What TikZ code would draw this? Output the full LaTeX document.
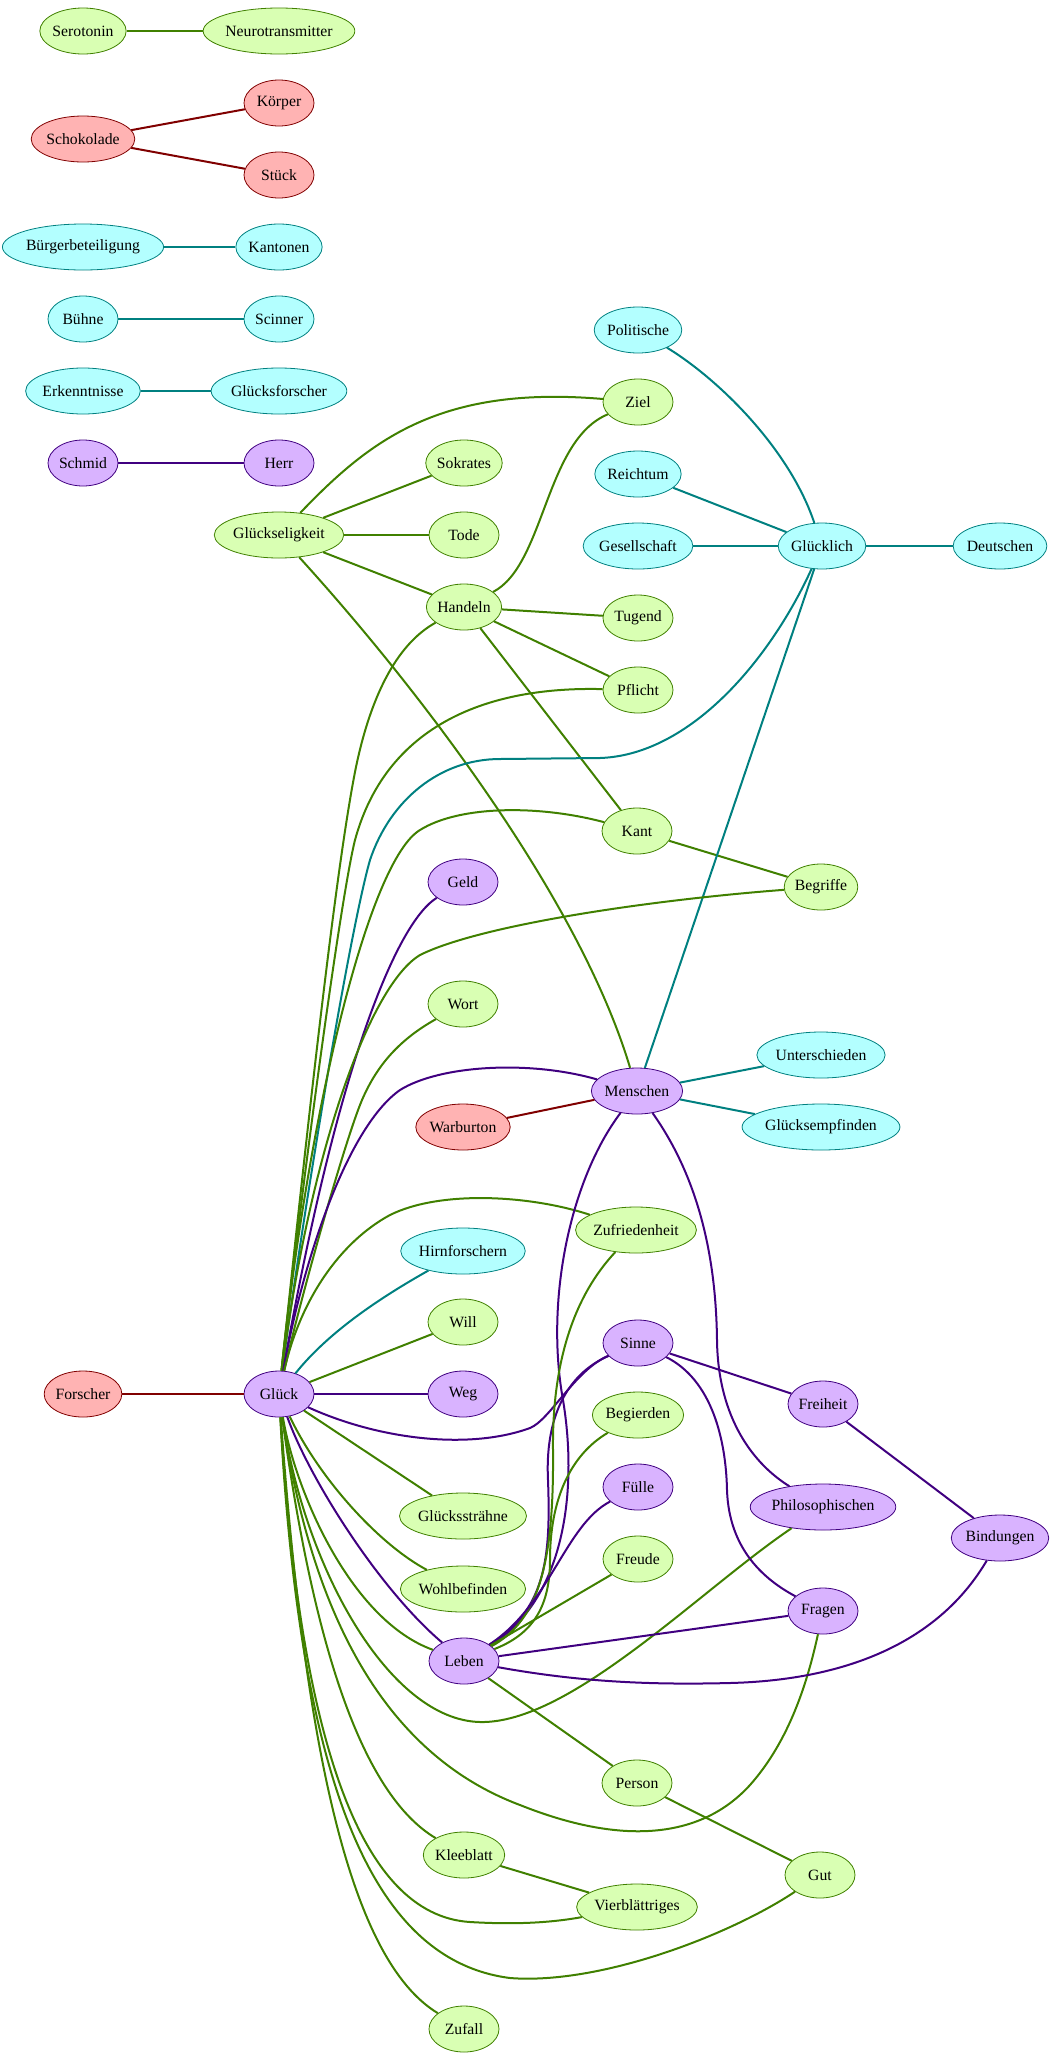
\documentclass[tikz,border=0pt]{standalone}
\usepackage{fontspec}
\setmainfont{Liberation Serif}
\usepackage{xcolor}
\usetikzlibrary{shapes.geometric}

\definecolor{gline}{HTML}{408000}
\definecolor{gfill}{HTML}{D9FFB3}
\definecolor{rline}{HTML}{800000}
\definecolor{rfill}{HTML}{FFB3B3}
\definecolor{cline}{HTML}{008080}
\definecolor{cfill}{HTML}{B3FFFF}
\definecolor{pline}{HTML}{400080}
\definecolor{pfill}{HTML}{D9B3FF}

\begin{document}
\begin{tikzpicture}[x=1pt,y=-1pt,
    every node/.style={ellipse,line width=0.8pt,minimum width=70pt,minimum height=46pt,
      inner xsep=0pt,inner ysep=0pt,font=\fontsize{15.7}{18}\selectfont},
    gnode/.style={draw=gline,fill=gfill},
    rnode/.style={draw=rline,fill=rfill},
    cnode/.style={draw=cline,fill=cfill},
    pnode/.style={draw=pline,fill=pfill},
    gedge/.style={draw=gline,line width=2pt},
    redge/.style={draw=rline,line width=2pt},
    cedge/.style={draw=cline,line width=2pt},
    pedge/.style={draw=pline,line width=2pt}]
\useasboundingbox (0,0) rectangle (1053,2059);

\node[gnode] (serotonin) at (83,31) {Serotonin};
\node[gnode] (neuro) at (279,31) {Neurotransmitter};
\node[rnode] (schokolade) at (83,139) {Schokolade};
\node[rnode] (koerper) at (279,103) {Körper};
\node[rnode] (stueck) at (279,175) {Stück};
\node[cnode] (buerger) at (83,247) {Bürgerbeteiligung};
\node[cnode] (kantonen) at (279,247) {Kantonen};
\node[cnode] (buehne) at (83,319) {Bühne};
\node[cnode] (scinner) at (279,319) {Scinner};
\node[cnode] (erkenntnisse) at (83,391) {Erkenntnisse};
\node[cnode] (gforscher) at (279,391) {Glücksforscher};
\node[pnode] (schmid) at (83,463) {Schmid};
\node[pnode] (herr) at (279,463) {Herr};

\node[cnode] (politische) at (638,330) {Politische};
\node[gnode] (ziel) at (638,402) {Ziel};
\node[gnode] (sokrates) at (464,463) {Sokrates};
\node[cnode] (reichtum) at (638,474) {Reichtum};
\node[gnode] (gseligkeit) at (279,535) {Glückseligkeit};
\node[gnode] (tode) at (464,535) {Tode};
\node[cnode] (gesellschaft) at (638,546) {Gesellschaft};
\node[cnode] (gluecklich) at (822,546) {Glücklich};
\node[cnode] (deutschen) at (1000,546) {Deutschen};
\node[gnode] (handeln) at (464,607) {Handeln};
\node[gnode] (tugend) at (638,618) {Tugend};
\node[gnode] (pflicht) at (638,690) {Pflicht};
\node[gnode] (kant) at (637,831) {Kant};
\node[pnode] (geld) at (463,882) {Geld};
\node[gnode] (begriffe) at (821,887) {Begriffe};
\node[gnode] (wort) at (463,1004) {Wort};
\node[cnode] (unterschieden) at (821,1055) {Unterschieden};
\node[pnode] (menschen) at (637,1091) {Menschen};
\node[rnode] (warburton) at (463,1127) {Warburton};
\node[cnode] (gempfinden) at (821,1127) {Glücksempfinden};
\node[gnode] (zufriedenheit) at (636,1230) {Zufriedenheit};
\node[cnode] (hirnforschern) at (463,1251) {Hirnforschern};
\node[gnode] (will) at (463,1322) {Will};
\node[pnode] (sinne) at (638,1343) {Sinne};
\node[rnode] (forscher) at (83,1394) {Forscher};
\node[pnode] (glueck) at (279,1394) {Glück};
\node[pnode] (weg) at (463,1394) {Weg};
\node[pnode] (freiheit) at (823,1404) {Freiheit};
\node[gnode] (begierden) at (638,1415) {Begierden};
\node[pnode] (fuelle) at (638,1487) {Fülle};
\node[pnode] (philosophischen) at (823,1507) {Philosophischen};
\node[gnode] (gstraehne) at (463,1516) {Glückssträhne};
\node[pnode] (bindungen) at (1000,1538) {Bindungen};
\node[gnode] (freude) at (638,1559) {Freude};
\node[gnode] (wohlbefinden) at (463,1589) {Wohlbefinden};
\node[pnode] (fragen) at (823,1611) {Fragen};
\node[pnode] (leben) at (464,1661) {Leben};
\node[gnode] (person) at (637,1783) {Person};
\node[gnode] (kleeblatt) at (464,1855) {Kleeblatt};
\node[gnode] (gut) at (820,1875) {Gut};
\node[gnode] (vierblaettriges) at (637,1907) {Vierblättriges};
\node[gnode] (zufall) at (464,2029) {Zufall};

\draw[gedge] (serotonin) -- (neuro);
\draw[redge] (schokolade) -- (koerper);
\draw[redge] (schokolade) -- (stueck);
\draw[cedge] (buerger) -- (kantonen);
\draw[cedge] (buehne) -- (scinner);
\draw[cedge] (erkenntnisse) -- (gforscher);
\draw[pedge] (schmid) -- (herr);

\draw[gedge] (gseligkeit) .. controls (370,440) and (440,385) .. (ziel);
\draw[gedge] (gseligkeit) -- (sokrates);
\draw[gedge] (gseligkeit) -- (tode);
\draw[gedge] (gseligkeit) -- (handeln);
\draw[gedge] (gseligkeit) .. controls (420,690) and (580,900) .. (menschen);
\draw[gedge] (handeln) .. controls (545,565) and (545,440) .. (ziel);
\draw[gedge] (handeln) -- (tugend);
\draw[gedge] (handeln) -- (pflicht);
\draw[gedge] (handeln) -- (kant);
\draw[gedge] (kant) -- (begriffe);
\draw[cedge] (politische) .. controls (720,380) and (790,450) .. (gluecklich);
\draw[cedge] (reichtum) -- (gluecklich);
\draw[cedge] (gesellschaft) -- (gluecklich);
\draw[cedge] (gluecklich) -- (deutschen);
\draw[cedge] (gluecklich) -- (menschen);
\draw[redge] (warburton) -- (menschen);
\draw[cedge] (menschen) -- (unterschieden);
\draw[cedge] (menschen) -- (gempfinden);

\draw[gedge] (handeln) .. controls (395,645) and (370,700) .. (356,767) .. controls (335,870) and (305,1150) .. (glueck);
\draw[gedge] (pflicht) .. controls (480,686) and (385,730) .. (355,840) .. controls (340,900) and (300,1200) .. (glueck);
\draw[cedge] (gluecklich) .. controls (770,660) and (690,755) .. (600,758) -- (500,759) .. controls (440,759) and (390,800) .. (370,860) .. controls (350,930) and (305,1200) .. (glueck);
\draw[gedge] (kant) .. controls (540,805) and (460,805) .. (420,830) .. controls (370,860) and (310,1100) .. (glueck);
\draw[pedge] (geld) .. controls (400,920) and (340,1050) .. (glueck);
\draw[gedge] (begriffe) .. controls (650,900) and (480,925) .. (420,955) .. controls (370,985) and (310,1150) .. (glueck);
\draw[gedge] (wort) .. controls (395,1042) and (375,1070) .. (362,1100) .. controls (345,1140) and (300,1300) .. (glueck);
\draw[pedge] (menschen) .. controls (530,1060) and (440,1065) .. (400,1090) .. controls (350,1125) and (305,1250) .. (glueck);
\draw[gedge] (zufriedenheit) .. controls (530,1195) and (440,1190) .. (390,1215) .. controls (340,1242) and (300,1300) .. (glueck);
\draw[cedge] (hirnforschern) .. controls (385,1295) and (330,1330) .. (glueck);
\draw[gedge] (will) -- (glueck);
\draw[pedge] (glueck) -- (weg);
\draw[redge] (forscher) -- (glueck);
\draw[pedge] (glueck) .. controls (380,1440) and (470,1450) .. (530,1428) .. controls (550,1420) and (575,1370) .. (sinne);
\draw[gedge] (glueck) -- (gstraehne);
\draw[gedge] (glueck) .. controls (320,1480) and (380,1545) .. (wohlbefinden);
\draw[pedge] (glueck) .. controls (310,1480) and (380,1590) .. (leben);
\draw[gedge] (glueck) .. controls (295,1490) and (350,1620) .. (leben);
\draw[gedge] (glueck) .. controls (305,1570) and (390,1720) .. (480,1722) .. controls (570,1724) and (700,1590) .. (philosophischen);
\draw[gedge] (glueck) .. controls (315,1640) and (400,1760) .. (520,1805) .. controls (620,1845) and (700,1840) .. (750,1785) .. controls (790,1740) and (808,1680) .. (fragen);
\draw[gedge] (glueck) .. controls (310,1620) and (355,1790) .. (kleeblatt);
\draw[gedge] (glueck) .. controls (300,1740) and (360,1915) .. (470,1922) .. controls (520,1925) and (555,1922) .. (vierblaettriges);
\draw[gedge] (glueck) .. controls (300,1780) and (370,1960) .. (510,1978) .. controls (600,1985) and (730,1935) .. (gut);
\draw[gedge] (glueck) .. controls (305,1750) and (350,1960) .. (zufall);

\draw[pedge] (menschen) .. controls (570,1180) and (545,1300) .. (563,1400) .. controls (578,1490) and (565,1600) .. (leben);
\draw[pedge] (sinne) .. controls (565,1375) and (545,1420) .. (548,1480) .. controls (551,1560) and (545,1610) .. (leben);
\draw[gedge] (zufriedenheit) .. controls (575,1295) and (552,1360) .. (553,1450) .. controls (554,1560) and (540,1620) .. (leben);
\draw[gedge] (begierden) .. controls (570,1455) and (550,1500) .. (550,1560) .. controls (550,1610) and (530,1635) .. (leben);
\draw[pedge] (fuelle) .. controls (565,1525) and (550,1605) .. (leben);
\draw[gedge] (freude) -- (leben);
\draw[pedge] (leben) -- (fragen);
\draw[pedge] (leben) .. controls (580,1682) and (650,1685) .. (730,1683) .. controls (850,1680) and (940,1640) .. (bindungen);
\draw[gedge] (leben) -- (person);
\draw[pedge] (sinne) -- (freiheit);
\draw[pedge] (sinne) .. controls (712,1380) and (726,1440) .. (727,1490) .. controls (729,1550) and (765,1580) .. (fragen);
\draw[pedge] (freiheit) -- (bindungen);
\draw[pedge] (menschen) .. controls (700,1180) and (716,1260) .. (717,1340) .. controls (718,1420) and (755,1465) .. (philosophischen);
\draw[gedge] (person) -- (gut);
\draw[gedge] (kleeblatt) -- (vierblaettriges);
\end{tikzpicture}
\end{document}
